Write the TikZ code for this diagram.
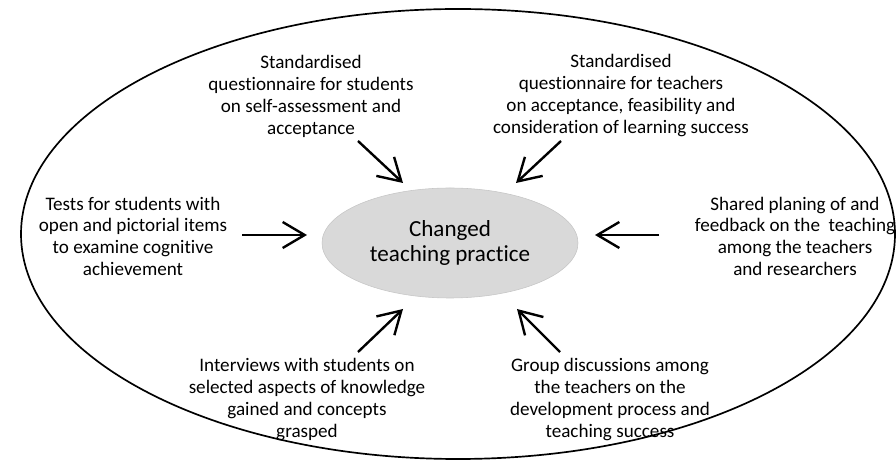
\documentclass[tikz,border=0pt]{standalone}
\usepackage{fontspec}
\setmainfont{Carlito}[Ligatures=NoCommon]
\usetikzlibrary{arrows.meta}
\usetikzlibrary{positioning}
\usetikzlibrary{shapes.geometric}

\tikzset{
    txt/.style={align=center, inner sep=0pt, font=\fontsize{13.6}{15.6}\selectfont},
    arr/.style={-{Straight Barb[length=5.5mm, width=6.5mm]}, line width=1.7pt}
}

\begin{document}
\begin{tikzpicture}
            \useasboundingbox(0, 0)rectangle(22.4, 11.55);

            \draw[line width=1.2pt](11.45, 5.7)ellipse(10.925 and 5.625);
            \node[ellipse, fill=gray!30, draw=gray!45, minimum width=6.4cm, minimum height=2.75cm,
                  align=center, font=\fontsize{16.4}{17.8}\selectfont](ctp)at(11.25, 5.475){Changed\\teaching practice};

            % sources
            \node[txt](qstud)at(7.775, 9.14){Standardised\\questionnaire for students\\on self-assessment and\\acceptance};
            \node[txt](qteach)at(15.525, 9.16){Standardised\\questionnaire for teachers\\on acceptance, feasibility and\\consideration of learning success};
            \node[txt](tests)at(3.325, 5.64){Tests for students with\\open and pictorial items\\to examine cognitive\\achievement};
            \node[txt](plan)at(19.875, 5.64){Shared planing of and\\feedback on the~ teaching\\among the teachers\\and researchers};
            \node[txt](interv)at(7.675, 1.57){Interviews with students on\\selected aspects of knowledge\\gained and concepts\\grasped};
            \node[txt](groupd)at(15.25, 1.57){Group discussions among\\the teachers on the\\development process and\\teaching success};

            % arrows
            \coordinate(qstudA)at(8.95, 8.025);   \coordinate(qstudB)at(10.075, 6.975);
            \coordinate(qteachA)at(14.025, 8.025); \coordinate(qteachB)at(12.9, 6.975);
            \coordinate(testsA)at(6.05, 5.675);   \coordinate(testsB)at(7.675, 5.675);
            \coordinate(planA)at(16.475, 5.675);  \coordinate(planB)at(14.875, 5.675);
            \coordinate(intervA)at(8.95, 2.75);   \coordinate(intervB)at(10.075, 3.825);
            \coordinate(groupdA)at(14.0, 2.75);   \coordinate(groupdB)at(12.925, 3.825);

            \foreach \s in {qstud, qteach, tests, plan, interv, groupd}{
                \draw[arr](\s A)--(\s B);
            }
        \end{tikzpicture}
\end{document}
